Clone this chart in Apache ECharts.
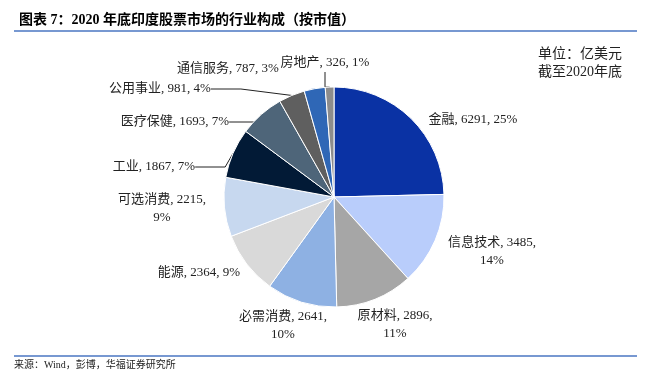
<!DOCTYPE html>
<html>
<head>
<meta charset="utf-8">
<script src="https://cdn.jsdelivr.net/npm/echarts@6/dist/echarts.min.js"></script>
<style>
  html, body { margin: 0; padding: 0; background: #fff; }
  #chart { width: 650px; height: 384px; }
</style>
</head>
<body>
<div id="chart"></div>
<script>
// sectors, clockwise from 12 o'clock
const sectors = ['金融', '信息技术', '原材料', '必需消费', '能源', '可选消费', '工业', '医疗保健', '公用事业', '通信服务', '房地产'];
const values = [6291, 3485, 2896, 2641, 2364, 2215, 1867, 1693, 981, 787, 326];
const colors = ['#0a32a4', '#b9cdfb', '#a6a6a6', '#8eb1e3', '#d9d9d9', '#c7d8ef', '#021a36', '#4e6579', '#5f5f5f', '#2f67b6', '#8c8c8c'];

// label placement (centre x, middle y) and which labels wrap / get leader lines
const labelPos = [[473, 120], [492, 252], [395, 325], [283, 326], [199, 273], [162, 209], [154, 167], [175, 122], [160, 89], [228, 69], [325, 63]];
const twoLine = ['信息技术', '原材料', '必需消费', '可选消费'];
const withLine = ['工业', '医疗保健', '公用事业', '房地产'];

const font = '"Liberation Serif", "Noto Sans CJK SC", serif';

const chart = echarts.init(document.getElementById('chart'));

const option = {
    animation: false,
    title: {
        text: '图表 7：2020 年底印度股票市场的行业构成（按市值）',
        left: 14,
        top: 8,
        textStyle: { fontSize: 14, fontWeight: 'bold', color: '#000', fontFamily: font }
    },
    graphic: [
        { type: 'line', shape: { x1: 14, y1: 31, x2: 637, y2: 31 }, style: { stroke: '#4a76c2', lineWidth: 1.5 } },
        { type: 'line', shape: { x1: 14, y1: 356, x2: 637, y2: 356 }, style: { stroke: '#4a76c2', lineWidth: 1.5 } },
        { type: 'text', left: 538, top: 45, style: { text: '单位：亿美元\n截至2020年底', font: '14px ' + font, fill: '#222', lineHeight: 18 } },
        { type: 'text', left: 14, top: 360, style: { text: '来源：Wind，彭博，华福证券研究所', font: '10px ' + font, fill: '#222' } }
    ],
    series: [{
        type: 'pie',
        center: [334, 197],
        radius: 110,
        startAngle: 90,
        clockwise: true,
        percentPrecision: 0,
        itemStyle: { borderColor: '#fff', borderWidth: 1 },
        label: {
            color: '#222',
            fontSize: 13,
            fontFamily: font,
            lineHeight: 18,
            align: 'center'
        },
        labelLine: { show: false, lineStyle: { color: '#222', width: 1 } },
        labelLayout: function (params) {
            const p = labelPos[params.dataIndex];
            return { x: p[0], y: p[1], align: 'center', verticalAlign: 'middle' };
        },
        data: sectors.map((name, i) => ({
            name: name,
            value: values[i],
            itemStyle: { color: colors[i] },
            label: { formatter: twoLine.includes(name) ? '{b}, {c},\n{d}%' : '{b}, {c}, {d}%' },
            labelLine: { show: withLine.includes(name) }
        }))
    }]
};

chart.setOption(option);
</script>
</body>
</html>
